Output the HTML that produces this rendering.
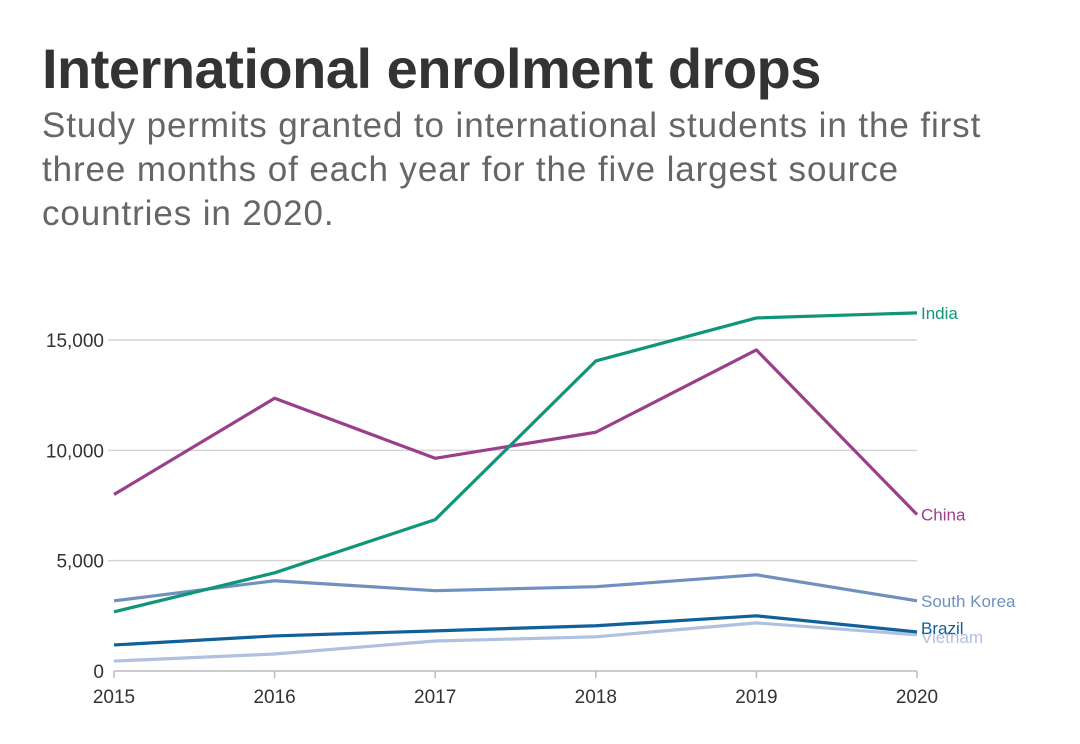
<!DOCTYPE html>
<html><head><meta charset="utf-8"><style>
body{margin:0;background:#fff;width:1080px;height:744px;overflow:hidden;font-family:"Liberation Sans",sans-serif}
h1{position:absolute;left:42px;top:36px;margin:0;font-size:56px;font-weight:bold;color:#333;letter-spacing:-0.5px}
p{position:absolute;left:42px;top:104px;margin:0;font-size:35px;line-height:44px;color:#666;width:1030px;white-space:nowrap;letter-spacing:0.9px}
svg{position:absolute;left:0;top:0}
</style></head><body>
<h1>International enrolment drops</h1>
<p>Study permits granted to international students in the first<br>three months of each year for the five largest source<br>countries in 2020.</p>
<svg id="c" width="1080" height="744"></svg>
<script>
const years=[2015,2016,2017,2018,2019,2020];
const yTicks=[0,5000,10000,15000];
const india=[2680,4450,6860,14050,16000,16230];
const china=[8000,12360,9640,10820,14550,7090];
const southKorea=[3180,4090,3640,3820,4360,3180];
const brazil=[1180,1590,1820,2050,2500,1770];
const vietnam=[450,770,1360,1550,2180,1640];
const NS="http://www.w3.org/2000/svg";
const svg=document.getElementById('c');
const x=i=>114+(917-114)*(years[i]-2015)/5;
const y=v=>671-v*(671-340)/15000;
function mk(t,a){const e=document.createElementNS(NS,t);for(const k in a)e.setAttribute(k,a[k]);svg.appendChild(e);return e;}
yTicks.forEach(v=>{
 if(v>0){const g=mk('line',{x1:108,x2:917,y1:y(v),y2:y(v),stroke:'#d4d4d4','stroke-width':1.5});
 
 }
 const t=mk('text',{x:104,y:y(v)+7,'text-anchor':'end','font-size':19,fill:'#333'});t.textContent=v.toLocaleString('en-US');
 
 
});
const ax=mk('line',{x1:114,x2:917,y1:671,y2:671,stroke:'#bbb','stroke-width':1.5});


years.forEach((yr,i)=>{
 const tk=mk('line',{x1:x(i),x2:x(i),y1:671,y2:678,stroke:'#bbb','stroke-width':1.5});
 
 
 const t=mk('text',{x:x(i),y:703,'text-anchor':'middle','font-size':19,fill:'#333'});t.textContent=yr;
 
 
});
const series=[[vietnam,'#b0c0e0','Vietnam',2],[southKorea,'#7090c0','South Korea',0],[brazil,'#10609a','Brazil',-4],[china,'#9a3f8a','China',0],[india,'#10957a','India',0]];
series.forEach(([d,c,n,off])=>{
 const l=mk('polyline',{points:d.map((v,i)=>x(i)+','+y(v)).join(' '),fill:'none',stroke:c,'stroke-width':3.2,'stroke-linejoin':'round'});
 
 
 const t=mk('text',{x:921,y:y(d[5])+6+off,'font-size':17,fill:c});t.textContent=n;
 
 
});
</script>
</body></html>
